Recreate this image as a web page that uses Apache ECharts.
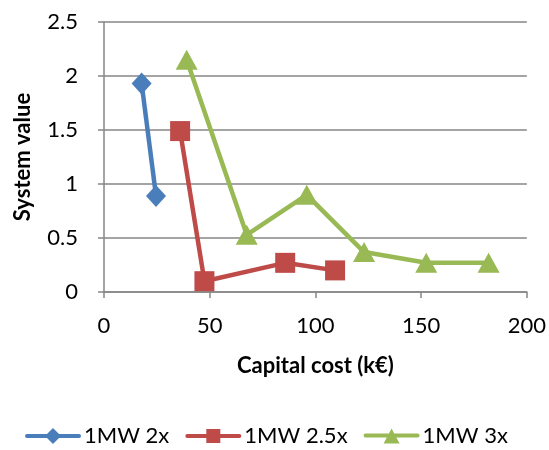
<!DOCTYPE html>
<html>
<head>
<meta charset="utf-8">
<script src="https://cdn.jsdelivr.net/npm/echarts@6/dist/echarts.min.js"></script>
<style>
html,body{margin:0;padding:0;background:#fff;}
#chart{width:549px;height:450px;}
</style>
</head>
<body>
<div id="chart"></div>
<script>
// Capital cost (k€) vs system value for three sizing ratios
const seriesNames = ['1MW 2x', '1MW 2.5x', '1MW 3x'];
const cost2x = [17.8, 24.6];
const value2x = [1.93, 0.89];
const cost25x = [36.0, 47.5, 85.7, 109.3];
const value25x = [1.49, 0.10, 0.27, 0.20];
const cost3x = [39.1, 67.5, 95.9, 123.0, 152.4, 181.9];
const value3x = [2.15, 0.53, 0.90, 0.37, 0.27, 0.27];

const colors = ['#4A7EBB', '#BE4B48', '#98B954'];
const symbols = ['diamond', 'rect', 'triangle'];
const symbolSizes = [[20, 22], 20, [22, 20]];
const font = 'Lato, "Open Sans", sans-serif';
const fs = 22;

// Legend keys: a thick stroke with the series marker in the middle (56x16 box)
const bar = 'M2 6 L54 6 A2 2 0 0 1 54 10 L2 10 A2 2 0 0 1 2 6 Z ';
const legendIcons = [
  'path://' + bar + 'M28 0 L36 8 L28 16 L20 8 Z',
  'path://' + bar + 'M21 1 L35 1 L35 15 L21 15 Z',
  'path://' + bar + 'M28 1 L36 16 L20 16 Z'
];

function pairs(xs, ys) { return xs.map((x, i) => [x, ys[i]]); }
const dataSets = [pairs(cost2x, value2x), pairs(cost25x, value25x), pairs(cost3x, value3x)];

const chart = echarts.init(document.getElementById('chart'));
chart.setOption({
  animation: false,
  grid: { left: 104, right: 22, top: 22, bottom: 158 },
  xAxis: {
    type: 'value', min: 0, max: 200, interval: 50,
    name: 'Capital cost (k€)', nameLocation: 'middle', nameGap: 63,
    nameTextStyle: { fontFamily: font, fontSize: fs, fontWeight: 'bold', color: '#000' },
    axisLine: { show: true, lineStyle: { color: '#868686', width: 1.5 } },
    axisTick: { show: true, length: 6, lineStyle: { color: '#868686', width: 1.5 } },
    axisLabel: { margin: 23, fontFamily: font, fontSize: fs, color: '#000' },
    splitLine: { show: false }
  },
  yAxis: {
    type: 'value', min: 0, max: 2.5, interval: 0.5,
    name: 'System value', nameLocation: 'middle', nameGap: 70,
    nameTextStyle: { fontFamily: font, fontSize: fs, fontWeight: 'bold', color: '#000' },
    axisLine: { show: true, lineStyle: { color: '#868686', width: 1.5 } },
    axisTick: { show: true, length: 6, lineStyle: { color: '#868686', width: 1.5 } },
    axisLabel: { margin: 26, fontFamily: font, fontSize: fs, color: '#000' },
    splitLine: { show: true, lineStyle: { color: '#868686', width: 1.5 } }
  },
  legend: {
    bottom: -2, left: 20, itemGap: 16, itemWidth: 56, itemHeight: 16,
    textStyle: { fontFamily: font, fontSize: fs, color: '#000', padding: [0, 0, 0, -2] },
    data: seriesNames.map((name, i) => ({
      name: name,
      icon: legendIcons[i],
      itemStyle: { color: colors[i], borderWidth: 0 }
    }))
  },
  series: seriesNames.map((name, i) => ({
    name: name,
    type: 'line',
    data: dataSets[i],
    symbol: symbols[i],
    symbolSize: symbolSizes[i],
    showAllSymbol: true,
    itemStyle: { color: colors[i] },
    lineStyle: { color: colors[i], width: 4.5 }
  }))
});
</script>
</body>
</html>
